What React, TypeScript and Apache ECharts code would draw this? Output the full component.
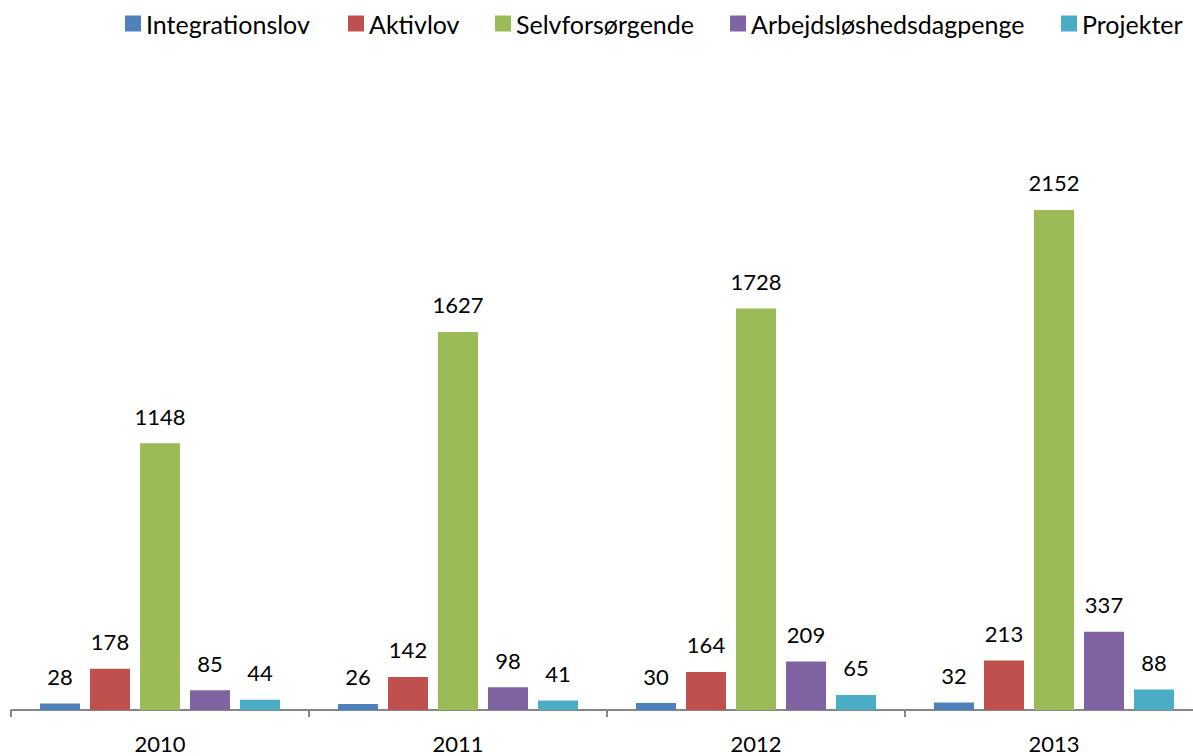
import React, { useEffect, useRef } from "react";
import * as echarts from "echarts";

const categories = ["2010", "2011", "2012", "2013"];
const seriesNames = ["Integrationslov", "Aktivlov", "Selvforsørgende", "Arbejdsløshedsdagpenge", "Projekter"];
const integrationslov = [28, 26, 30, 32];
const aktivlov = [178, 142, 164, 213];
const selvforsorgende = [1148, 1627, 1728, 2152];
const arbejdsloshed = [85, 98, 209, 337];
const projekter = [44, 41, 65, 88];
const colors = ["#4F81BD", "#C0504D", "#9BBB59", "#8064A2", "#4BACC6"];
const legendLefts = [125, 348, 495, 730, 1061];

const FONT = "Lato, 'Open Sans', sans-serif";

export default function App() {
  const ref = useRef<HTMLDivElement>(null);
  useEffect(() => {
    if (!ref.current) return;
    const chart = echarts.init(ref.current, undefined, { renderer: "svg" });
    const values = [integrationslov, aktivlov, selvforsorgende, arbejdsloshed, projekter];
    chart.setOption({
      animation: false,
      textStyle: { fontFamily: FONT },
      legend: seriesNames.map((name, i) => ({
        top: 11,
        left: legendLefts[i],
        padding: 0,
        itemWidth: 16,
        itemHeight: 16,
        icon: "rect",
        textStyle: { fontSize: 25, color: "#000", fontFamily: FONT },
        data: [name],
      })),
      grid: { left: 11, width: 1192, top: 129, bottom: 46, containLabel: false },
      xAxis: {
        type: "category",
        data: categories,
        axisLine: { lineStyle: { color: "#868686", width: 2 } },
        axisTick: { show: true, length: 7, lineStyle: { color: "#868686", width: 2 } },
        axisLabel: { color: "#000", fontSize: 22, margin: 22, fontFamily: FONT },
      },
      yAxis: {
        type: "value",
        min: 0,
        max: 2500,
        show: false,
        splitLine: { show: false },
      },
      series: seriesNames.map((name, i) => ({
        name,
        type: "bar",
        data: values[i],
        barWidth: 40,
        barGap: "25%",
        itemStyle: { color: colors[i] },
        label: {
          show: true,
          position: "top",
          distance: 16,
          color: "#000",
          fontSize: 22,
          fontFamily: FONT,
        },
      })),
    });
    return () => chart.dispose();
  }, []);
  return (
    <div
      style={{ position: "absolute", left: 0, top: 0, width: 1193, height: 756, overflow: "hidden", background: "#fff" }}
    >
      <div ref={ref} style={{ width: 1220, height: 756 }} />
    </div>
  );
}
